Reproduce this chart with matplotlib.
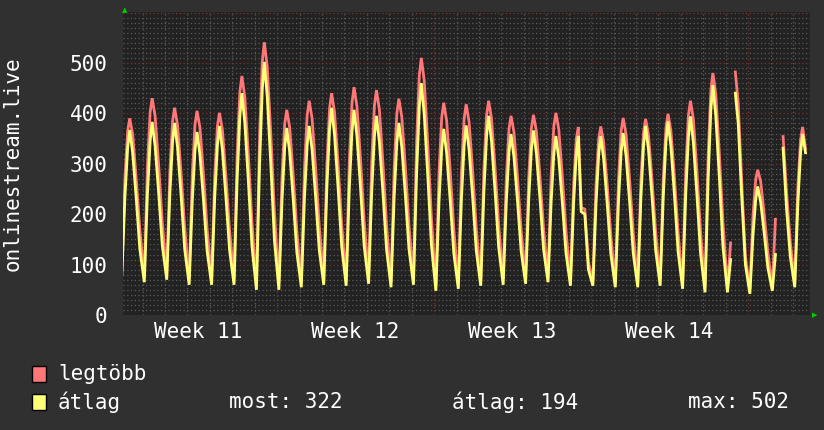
import numpy as np
import matplotlib
matplotlib.use("Agg")
import matplotlib.pyplot as plt
from matplotlib.patches import Rectangle

nan = np.nan

# sample times inside each day (fraction of day), days counted from start of Week 11
day_fracs = [0.08, 0.22, 0.34, 0.43, 0.56, 0.72, 0.88]
week_labels = ["Week 11", "Week 12", "Week 13", "Week 14"]
week_starts = [0, 7, 14, 21, 28]

# "átlag" (average) series, 7 samples per day
avg_w11 = [80, 238, 333, 367, 322, 231, 131,
           65, 240, 345, 383, 336, 242, 139,
           70, 241, 344, 381, 333, 237, 131,
           60, 227, 327, 363, 318, 227, 127,
           60, 233, 337, 375, 328, 233, 129,
           60, 269, 394, 440, 382, 265, 136,
           50, 299, 448, 502, 434, 299, 149]
avg_w12 = [50, 227, 332, 371, 324, 229, 125,
           55, 231, 337, 375, 328, 233, 129,
           60, 253, 369, 411, 358, 252, 136,
           58, 250, 365, 407, 355, 252, 138,
           62, 245, 355, 395, 344, 242, 130,
           55, 234, 342, 381, 333, 237, 131,
           60, 280, 412, 460, 398, 275, 139]
avg_w13 = [48, 225, 330, 369, 321, 226, 122,
           52, 230, 337, 376, 328, 233, 128,
           58, 243, 355, 395, 345, 244, 134,
           60, 224, 323, 359, 314, 225, 127,
           62, 229, 330, 366, 321, 231, 131,
           65, 225, 320, 355, 310, 221, 123,
           58, 221, 319, 355, 205, 200, 90]
avg_w14 = [58, 221, 319, 355, 310, 220, 121,
           55, 223, 324, 361, 315, 223, 122,
           55, 231, 337, 375, 327, 232, 128,
           58, 237, 345, 384, 334, 235, 125,
           52, 240, 353, 394, 342, 237, 122,
           45, 271, 407, 456, 394, 271, 135,
           45, 110, nan, 440, 380, 230, 100]
avg_w15 = [42, 159, 229, 255, 224, 162, 94,
           48, 120, nan, nan, 331, 207, 116,
           55, 222, 323, 359, 322, nan, nan]

# "legtöbb" (maximum) series
max_w11 = [90, 276, 366, 390, 359, 270, 170,
           75, 295, 402, 430, 395, 297, 185,
           80, 285, 385, 411, 377, 282, 174,
           72, 278, 378, 405, 372, 278, 171,
           70, 275, 375, 401, 368, 275, 169,
           70, 320, 442, 474, 433, 317, 184,
           60, 358, 503, 541, 493, 359, 206]
max_w12 = [62, 276, 379, 407, 373, 277, 168,
           65, 288, 396, 425, 390, 290, 177,
           70, 299, 410, 440, 403, 299, 180,
           68, 306, 421, 452, 414, 309, 188,
           75, 305, 416, 446, 408, 301, 179,
           65, 291, 400, 429, 393, 293, 178,
           70, 343, 475, 510, 465, 338, 194]
max_w13 = [58, 283, 392, 421, 385, 285, 170,
           62, 283, 390, 418, 383, 285, 173,
           68, 289, 396, 425, 390, 291, 178,
           72, 272, 369, 395, 363, 272, 169,
           72, 274, 371, 397, 365, 275, 172,
           75, 277, 375, 401, 368, 274, 168,
           68, 257, 349, 373, 213, 210, 105]
max_w14 = [68, 258, 350, 374, 343, 257, 158,
           65, 267, 365, 391, 358, 267, 163,
           65, 266, 363, 389, 357, 267, 164,
           68, 273, 373, 399, 365, 271, 163,
           62, 287, 396, 425, 388, 284, 166,
           55, 319, 446, 480, 438, 319, 183,
           55, 143, nan, 482, 420, 260, 115]
max_w15 = [52, 198, 269, 288, 265, 199, 125,
           55, 190, nan, nan, 354, 240, 145,
           65, 256, 348, 373, 330, nan, nan]

ylabel = "onlinestream.live"
stat_labels = ["most: 322", "átlag: 194", "max: 502"]

avg = np.array(avg_w11 + avg_w12 + avg_w13 + avg_w14 + avg_w15, dtype=float)
mx = np.array(max_w11 + max_w12 + max_w13 + max_w14 + max_w15, dtype=float)
ndays = len(avg) // len(day_fracs)
t = np.array([d + f for d in range(ndays) for f in day_fracs])

BG = "#303030"
PLOT_BG = "#222222"
RED = "#ff7777"
YEL = "#ffff77"
FONT = "DejaVu Sans Mono"
FS = 15

fig = plt.figure(figsize=(8.24, 4.30), dpi=100, facecolor=BG)
W, H = 824, 430
ax = fig.add_axes([123 / W, 115 / H, 687 / W, 303 / H])
ax.set_facecolor(PLOT_BG)
x0, x1 = 0.13, 30.76
y0, y1 = 0, 601
ax.set_xlim(x0, x1)
ax.set_ylim(y0, y1)

# grid
minor_c = "#5a5a5a"
major_c = "#7a3333"
dots = (0, (1, 2))
for v in range(10, 601, 10):
    if v % 100:
        ax.axhline(v, color=minor_c, lw=0.9, ls=dots, zorder=1)
for d in range(1, 31):
    if d not in week_starts:
        ax.axvline(d, color=minor_c, lw=0.9, ls=dots, zorder=1)
for v in range(100, 601, 100):
    ax.axhline(v, color=major_c, lw=0.9, ls=dots, zorder=1.5)
for d in week_starts[1:]:
    ax.axvline(d, color=major_c, lw=0.9, ls=dots, zorder=1.5)

ax.plot(t, mx, color=RED, lw=2, zorder=3, solid_joinstyle="miter")
ax.plot(t, avg, color=YEL, lw=2, zorder=4, solid_joinstyle="miter")

for s in ax.spines.values():
    s.set_visible(False)
ax.set_yticks(range(0, 501, 100))
ax.set_yticklabels([str(v) for v in range(0, 501, 100)], fontfamily=FONT,
                   fontsize=FS, color="white")
ax.set_xticks([w + 3.5 for w in week_starts[:4]])
ax.set_xticklabels(week_labels, fontfamily=FONT, fontsize=FS, color="white")
ax.tick_params(axis="y", length=0, pad=11)
ax.tick_params(axis="x", length=0, pad=5)

fig.text(13 / W, 1 - 164 / H, ylabel, rotation=90, fontfamily=FONT, fontsize=FS,
         color="white", ha="center", va="center")

# green arrows
fig.text(125 / W, 1 - 10 / H, "▲", color="#00cc00", fontsize=5, ha="center",
         va="center", fontfamily="DejaVu Sans")
fig.text(815 / W, 1 - 315 / H, "▶", color="#00cc00", fontsize=5, ha="center",
         va="center", fontfamily="DejaVu Sans")

# legend
for yc, col in [(374, RED), (402, YEL)]:
    fig.patches.append(Rectangle((32 / W, 1 - (yc + 8) / H), 14 / W, 16 / H,
                                 transform=fig.transFigure, facecolor=col,
                                 edgecolor="black", lw=1))
fig.text(58 / W, 1 - 374 / H, "legtöbb", fontfamily=FONT, fontsize=FS,
         color="white", va="center")
fig.text(58 / W, 1 - 402 / H, "átlag", fontfamily=FONT, fontsize=FS,
         color="white", va="center")
for xs, lab in zip([229, 452, 688], stat_labels):
    fig.text(xs / W, 1 - 402 / H, lab, fontfamily=FONT, fontsize=FS,
             color="white", va="center")

fig.savefig("out.png", dpi=100, facecolor=BG)
